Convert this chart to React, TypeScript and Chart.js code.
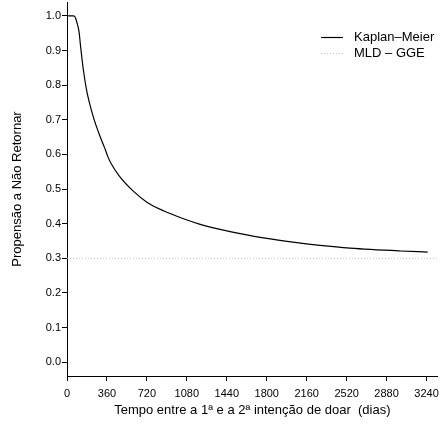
import React, { useEffect, useRef } from 'react';
import { Chart, registerables } from 'chart.js';

Chart.register(...registerables);

// ---- data ----
const kmDays = [0, 60, 75, 90, 108, 123, 147, 177, 222, 260, 300, 340, 370, 400, 470, 600, 720, 870, 1050, 1200, 1470, 1770, 2070, 2280, 2550, 3000, 3250];
const kmSurvival = [1.0, 1.0, 0.995, 0.98, 0.955, 0.91, 0.845, 0.785, 0.725, 0.685, 0.65, 0.618, 0.592, 0.572, 0.538, 0.493, 0.462, 0.437, 0.414, 0.398, 0.377, 0.359, 0.345, 0.337, 0.329, 0.321, 0.318];
const mldDays = [0, 3340];
const mldLevel = [0.3, 0.3];
const xTickValues = [0, 360, 720, 1080, 1440, 1800, 2160, 2520, 2880, 3240];
const yTickValues = [0, 0.1, 0.2, 0.3, 0.4, 0.5, 0.6, 0.7, 0.8, 0.9, 1.0];
const seriesNames = ['Kaplan\u2013Meier', 'MLD \u2013 GGE'];
const xTitle = 'Tempo entre a 1\u00aa e a 2\u00aa inten\u00e7\u00e3o de doar  (dias)';
const yTitle = 'Propens\u00e3o a N\u00e3o Retornar';

const FONT = '"Liberation Sans", Arial, Helvetica, sans-serif';

const legendPlugin = {
  id: 'rLegend',
  afterDraw(chart: any) {
    const ctx = chart.ctx;
    const x0 = 321, x1 = 343, tx = 354;
    const rows = [37, 53];
    ctx.save();
    chart.data.datasets.forEach((ds: any, i: number) => {
      const y = rows[i];
      ctx.beginPath();
      ctx.strokeStyle = ds.borderColor;
      ctx.lineWidth = ds.borderWidth;
      ctx.setLineDash(ds.borderDash || []);
      ctx.moveTo(x0, y + 0.5);
      ctx.lineTo(x1, y + 0.5);
      ctx.stroke();
      ctx.setLineDash([]);
      ctx.fillStyle = '#000';
      ctx.font = `13px ${FONT}`;
      ctx.textBaseline = 'middle';
      ctx.textAlign = 'left';
      ctx.fillText(ds.label, tx, y);
    });
    ctx.restore();
  },
};

export default function App() {
  const ref = useRef<HTMLCanvasElement | null>(null);
  useEffect(() => {
    document.body.style.margin = '0';
    const canvas = ref.current!;
    const chart = new Chart(canvas, {
      type: 'line',
      data: {
        datasets: [
          {
            label: seriesNames[0],
            data: kmDays.map((d, i) => ({ x: d, y: kmSurvival[i] })),
            borderColor: '#000',
            borderWidth: 1.2,
            pointRadius: 0,
            cubicInterpolationMode: 'monotone',
            fill: false,
          },
          {
            label: seriesNames[1],
            data: mldDays.map((d, i) => ({ x: d, y: mldLevel[i] })),
            borderColor: '#bdbdbd',
            borderWidth: 1,
            borderDash: [1, 2],
            pointRadius: 0,
            fill: false,
          },
        ],
      },
      options: {
        animation: false,
        responsive: false,
        devicePixelRatio: 1,
        layout: { padding: { left: 0, right: 7, top: 2, bottom: 0 } },
        plugins: { legend: { display: false }, tooltip: { enabled: false } },
        scales: {
          x: {
            type: 'linear',
            min: 0,
            max: 3340,
            afterBuildTicks: (s: any) => { s.ticks = xTickValues.map((v) => ({ value: v })); },
            afterFit: (s: any) => { s.height = 54; },
            ticks: {
              color: '#000',
              font: { family: FONT, size: 11 },
              padding: 6,
              maxRotation: 0,
              autoSkip: false,
              callback: (v: any) => String(v),
            },
            grid: { drawOnChartArea: false, drawTicks: true, tickLength: 5, color: '#000', lineWidth: 1 },
            border: { display: true, color: '#000', width: 1 },
            title: { display: true, text: xTitle, color: '#000', font: { family: FONT, size: 13 }, padding: { top: 0, bottom: 12 } },
          },
          y: {
            type: 'linear',
            min: -0.04,
            max: 1.04,
            afterBuildTicks: (s: any) => { s.ticks = yTickValues.map((v) => ({ value: v })); },
            afterFit: (s: any) => { s.width = 67; s.paddingTop = 0; s.paddingBottom = 0; },
            ticks: {
              color: '#000',
              font: { family: FONT, size: 11 },
              padding: 1,
              autoSkip: false,
              callback: (v: any) => Number(v).toFixed(1),
            },
            grid: { drawOnChartArea: false, drawTicks: true, tickLength: 5, color: '#000', lineWidth: 1 },
            border: { display: true, color: '#000', width: 1 },
            title: { display: true, text: yTitle, color: '#000', font: { family: FONT, size: 13 }, padding: { top: 10, bottom: 0 } },
          },
        },
      },
      plugins: [legendPlugin],
    } as any);
    return () => chart.destroy();
  }, []);
  return (
    <div style={{ width: 445, height: 430 }}>
      <canvas ref={ref} width={445} height={430} />
    </div>
  );
}
